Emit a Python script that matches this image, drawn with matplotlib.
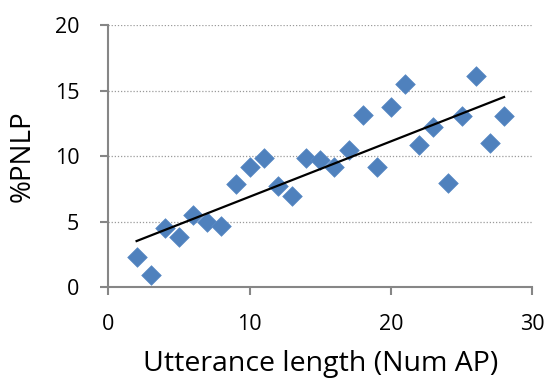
import numpy as np
import matplotlib
matplotlib.use("Agg")
import matplotlib.pyplot as plt

plt.rcParams['font.family'] = ['Open Sans', 'DejaVu Sans']

x_vals = [2, 3, 4, 5, 6, 7, 8, 9, 10, 11, 12, 13, 14, 15, 16, 17, 18, 19, 20,
          21, 22, 23, 24, 25, 26, 27, 28]
y_vals = [2.3, 0.95, 4.55, 3.85, 5.5, 5.0, 4.7, 7.85, 9.2, 9.9, 7.7, 7.0, 9.85,
          9.75, 9.2, 10.5, 13.15, 9.2, 13.75, 15.5, 10.85, 12.25, 7.95, 13.1,
          16.15, 11.0, 13.1]
x_ticks = [0, 10, 20, 30]
y_ticks = [0, 5, 10, 15, 20]
x_label = "Utterance length (Num AP)"
y_label = "%PNLP"

fig = plt.figure(figsize=(5.48, 3.81), dpi=100)
ax = fig.add_axes([0.1977, 0.2459, 0.7737, 0.6877])

ax.scatter(x_vals, y_vals, marker='D', s=100, color='#4F81BD',
           edgecolor='#5A8AC6', linewidths=0.5, zorder=3)

coef = np.polyfit(x_vals, y_vals, 1)
xs = np.array([min(x_vals), max(x_vals)])
ax.plot(xs, np.polyval(coef, xs), color='black', lw=1.6, zorder=4)

ax.set_xlim(0, 30)
ax.set_ylim(0, 20)
ax.set_xticks(x_ticks)
ax.set_yticks(y_ticks)
ax.grid(axis='y', linestyle=(0, (1, 1.5)), color='#9a9a9a', lw=0.9)
ax.set_axisbelow(True)
for s in ['top', 'right']:
    ax.spines[s].set_visible(False)
for s in ['left', 'bottom']:
    ax.spines[s].set_color('#868686')
    ax.spines[s].set_linewidth(1.5)
ax.tick_params(axis='both', colors='#868686', width=1.5, length=6,
               labelsize=15.5, labelcolor='black', direction='out')
ax.tick_params(axis='x', pad=13)
ax.tick_params(axis='y', pad=15)
ax.set_xlabel(x_label, fontsize=20.5)
ax.set_ylabel(y_label, fontsize=20)
ax.xaxis.set_label_coords(0.5, -0.238)
ax.yaxis.set_label_coords(-0.169, 0.5)

fig.savefig("out.png", dpi=100)
